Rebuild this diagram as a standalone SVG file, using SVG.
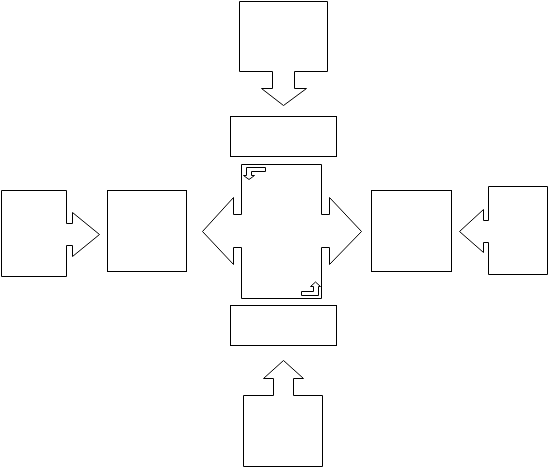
<svg xmlns="http://www.w3.org/2000/svg" width="548" height="468" viewBox="0 0 548 468">
<style>
.s{fill:#fff;stroke:#000;stroke-width:1;shape-rendering:crispEdges}
.d{fill:#fff;stroke:#000;stroke-width:1}
</style>
<rect x="0" y="0" width="548" height="468" fill="#fff"/>
<g id="top-source"><polygon class="d" points="239.5,1.5 327.5,1.5 327.5,71.5 294.5,71.5 294.5,88.5 306.5,88.5 283.5,105.5 261.5,88.5 272.5,88.5 272.5,71.5 239.5,71.5"/></g>
<g id="top-box"><rect class="s" x="230.5" y="116.5" width="106" height="40"/></g>
<g id="center">
<polygon class="d" points="241.5,164.5 321.5,164.5 321.5,214.5 329.5,214.5 329.5,197.5 361.5,231.5 329.5,264.5 329.5,247.5 321.5,247.5 321.5,298.5 241.5,298.5 241.5,247.5 233.5,247.5 233.5,264.5 202.5,231.5 233.5,197.5 233.5,214.5 241.5,214.5"/>
<polygon class="d" points="265.5,167.5 246.5,167.5 246.5,175.5 243.5,175.5 249,179.5 254.5,175.5 251.5,175.5 251.5,171.5 265.5,171.5"/>
<polygon class="d" points="301.5,295.5 318.5,295.5 318.5,286.5 320.5,286.5 315.5,282 310.5,286.5 313.5,286.5 313.5,291.5 301.5,291.5"/>
</g>
<g id="bottom-box"><rect class="s" x="230.5" y="305.5" width="106" height="40"/></g>
<g id="bottom-source"><polygon class="d" points="243.5,466.5 322.5,466.5 322.5,395.5 293.5,395.5 293.5,378.5 303.5,378.5 283.5,360.5 263.5,378.5 273.5,378.5 273.5,395.5 243.5,395.5"/></g>
<g id="left-source"><polygon class="d" points="1.5,190.5 66.5,190.5 66.5,223.5 72.5,223.5 72.5,212.5 99.5,234.5 72.5,256.5 72.5,245.5 66.5,245.5 66.5,276.5 1.5,276.5"/></g>
<g id="left-box"><rect class="s" x="107.5" y="190.5" width="79" height="81"/></g>
<g id="right-box"><rect class="s" x="371.5" y="190.5" width="80" height="81"/></g>
<g id="right-source"><polygon class="d" points="488.5,186.5 547.5,186.5 547.5,274.5 488.5,274.5 488.5,242.5 483.5,242.5 483.5,252.5 459.5,231.5 483.5,209.5 483.5,220.5 488.5,220.5"/></g>
<g id="connectors"></g>
</svg>
